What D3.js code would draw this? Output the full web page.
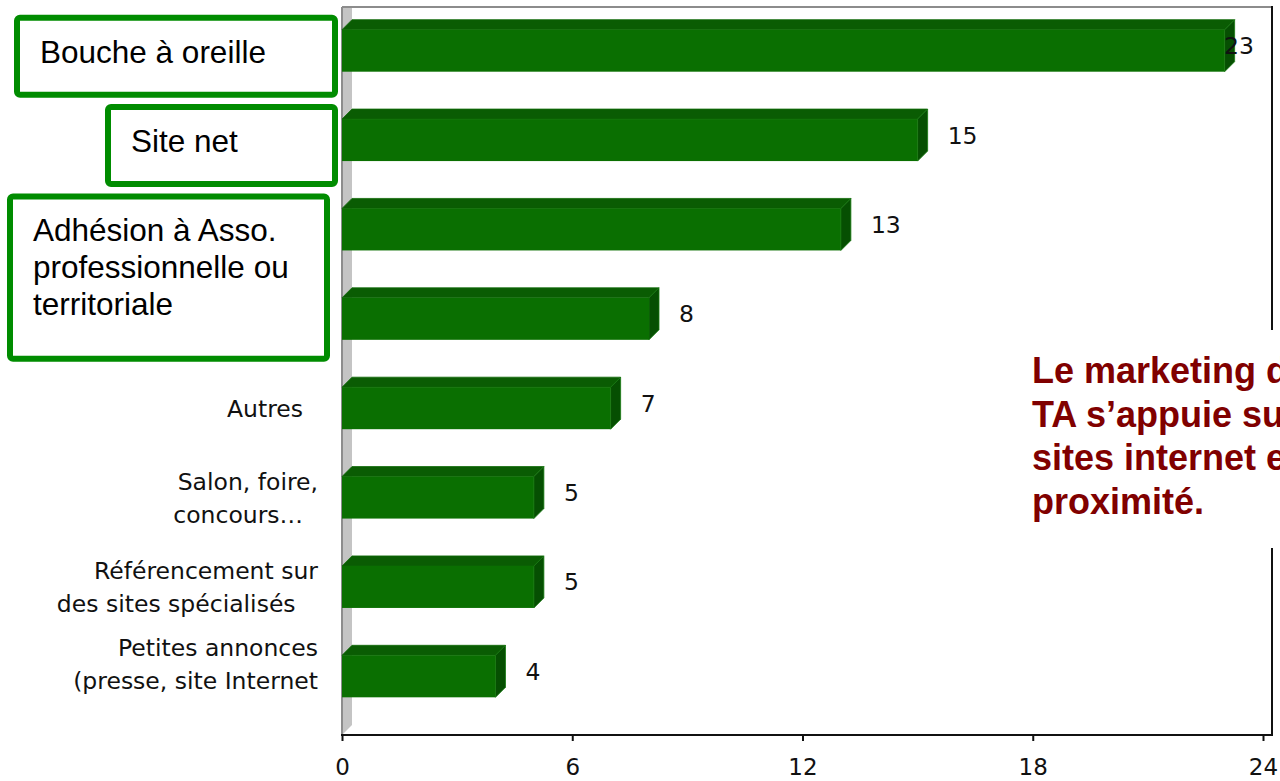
<!DOCTYPE html>
<html lang="fr">
<head>
<meta charset="utf-8">
<script src="https://cdn.jsdelivr.net/npm/d3@7"></script>
<style>
  html, body { margin: 0; padding: 0; background: #fff; overflow: hidden; }
  svg { display: block; }
</style>
</head>
<body>
<svg id="chart" width="1280" height="781"></svg>
<script>
// ---- data ----
const categories = [
  "Bouche à oreille",
  "Site net",
  "Adhésion à Asso. professionnelle",
  "Adhésion à Asso. territoriale",
  "Autres",
  "Salon, foire, concours…",
  "Référencement sur des sites spécialisés",
  "Petites annonces (presse, site Internet"
];
const values = [23, 15, 13, 8, 7, 5, 5, 4];

// axis label lines per category (the first four are shown in framed boxes instead)
const categoryLabels = [
  [], [], [], [],
  ["Autres\u00a0\u00a0"],
  ["Salon, foire,", "concours…\u00a0\u00a0"],
  ["Référencement sur", "des sites spécialisés\u00a0\u00a0\u00a0"],
  ["Petites annonces", "(presse, site Internet", ""]
];
const xTicks = [0, 6, 12, 18, 24];

// framed labels: text lines and the range of categories each one covers
const boxTexts = [
  ["Bouche à oreille"],
  ["Site net"],
  ["Adhésion à Asso.", "professionnelle ou", "territoriale"]
];
const boxFrom = [0, 1, 2];
const boxTo = [0, 1, 3];

const noteLines = ["Le marketing des", "TA s’appuie sur les", "sites internet et de", "proximité."];

// ---- layout ----
const svg = d3.select("#chart");
const depthX = 10, depthY = 10;      // 3D extrusion of bars and walls
const axisY = 735;                   // front edge of the floor
const backTop = 7;                   // top edge of the back wall

const x = d3.scaleLinear().domain([0, 24]).range([342, 1263]);
const y = d3.scaleBand().domain(categories).range([6, 721])
  .paddingInner(0.53).paddingOuter(0.265);
const bw = y.bandwidth();
const backRight = x(24) + 9;

const labelFont = "'DejaVu Sans', Verdana, sans-serif";

// ---- side wall and frame ----
svg.append("polygon")
  .attr("points", [[x(0), backTop], [x(0) + depthX, backTop], [x(0) + depthX, axisY - depthY], [x(0), axisY]].join(" "))
  .attr("fill", "#c4c4c4");
svg.append("line")
  .attr("x1", x(0)).attr("x2", x(0)).attr("y1", backTop).attr("y2", axisY)
  .attr("stroke", "#8c8c8c").attr("stroke-width", 2);
svg.append("line")
  .attr("x1", x(0)).attr("x2", backRight).attr("y1", backTop).attr("y2", backTop)
  .attr("stroke", "#8c8c8c").attr("stroke-width", 2);
svg.append("line")
  .attr("x1", backRight).attr("x2", backRight).attr("y1", backTop - 1).attr("y2", axisY)
  .attr("stroke", "#111").attr("stroke-width", 2);

// ---- 3D bars ----
const bars = svg.append("g").selectAll("g").data(values).join("g");
// top face
bars.append("polygon")
  .attr("points", (d, i) => {
    const y0 = y(categories[i]), x0 = x(0), x1 = x(d);
    return [[x0, y0], [x0 + depthX, y0 - depthY], [x1 + depthX, y0 - depthY], [x1, y0]].join(" ");
  })
  .attr("fill", "#0a5c03").attr("stroke", "#0f6a08").attr("stroke-width", 0.8);
// side face
bars.append("polygon")
  .attr("points", (d, i) => {
    const y0 = y(categories[i]), x1 = x(d);
    return [[x1, y0], [x1 + depthX, y0 - depthY], [x1 + depthX, y0 - depthY + bw], [x1, y0 + bw]].join(" ");
  })
  .attr("fill", "#064f02").attr("stroke", "#177a10").attr("stroke-width", 0.8);
// front face
bars.append("rect")
  .attr("x", x(0))
  .attr("y", (d, i) => y(categories[i]))
  .attr("width", d => x(d) - x(0))
  .attr("height", bw)
  .attr("fill", "#0a6f01");

// value labels, kept inside the plot frame
svg.append("g").selectAll("text").data(values).join("text")
  .attr("font-family", labelFont).attr("font-size", 23.5).attr("fill", "#111")
  .attr("y", (d, i) => y(categories[i]) + bw / 2 - depthY / 2)
  .attr("dy", "0.36em")
  .text(d => d)
  .attr("x", function (d) {
    const w = this.getComputedTextLength();
    return Math.min(x(d) + depthX + 20, backRight - 18 - w);
  });

// ---- x axis ----
svg.append("line")
  .attr("x1", x(0) - 1).attr("x2", backRight + 1).attr("y1", axisY).attr("y2", axisY)
  .attr("stroke", "#111").attr("stroke-width", 2);
const axis = svg.append("g").attr("transform", `translate(0,${axisY})`)
  .call(d3.axisBottom(x).tickValues(xTicks).tickSize(6).tickFormat(d3.format("d")));
axis.select(".domain").remove();
axis.selectAll(".tick line").attr("stroke", "#111").attr("stroke-width", 2);
axis.selectAll(".tick text")
  .attr("font-family", labelFont).attr("font-size", 23).attr("fill", "#111")
  .attr("y", 40).attr("dy", 0);

// ---- category labels ----
const lineGap = 33;
svg.append("g").selectAll("text").data(categoryLabels).join("text")
  .attr("font-family", labelFont).attr("font-size", 23.5).attr("fill", "#111")
  .attr("text-anchor", "end")
  .attr("xml:space", "preserve")
  .each(function (lines, i) {
    const cy = y(categories[i]) + bw / 2;
    const t = d3.select(this);
    lines.forEach((ln, k) => {
      t.append("tspan")
        .attr("x", 318)
        .attr("y", cy + (k - (lines.length - 1) / 2) * lineGap + (lines.length > 2 ? 4 : 0))
        .attr("dy", "0.36em")
        .text(ln);
    });
  });

// ---- framed labels ----
const boxLeft = [17, 108, 10];
const boxRight = [335, 335, 327];
const boxTop = i => y(categories[boxFrom[i]]) + bw / 2 - 33;
const boxBottom = i => y(categories[boxTo[i]]) + bw / 2 + 44 - (boxTo[i] - boxFrom[i]) * 4;
const boxes = svg.append("g").selectAll("g").data(boxTexts).join("g");
boxes.append("rect")
  .attr("x", (d, i) => boxLeft[i])
  .attr("y", (d, i) => boxTop(i))
  .attr("width", (d, i) => boxRight[i] - boxLeft[i])
  .attr("height", (d, i) => boxBottom(i) - boxTop(i))
  .attr("rx", 3)
  .attr("fill", "#fff").attr("stroke", "#008c00").attr("stroke-width", 6);
boxes.append("text")
  .attr("font-family", "'Liberation Sans', Arial, sans-serif").attr("font-size", 31.5).attr("fill", "#000")
  .each(function (lines, i) {
    const t = d3.select(this);
    lines.forEach((ln, k) => {
      t.append("tspan").attr("x", boxLeft[i] + 23).attr("y", boxTop(i) + 45 + k * 37).text(ln);
    });
  });

// ---- note ----
svg.append("rect").attr("x", 1020).attr("y", 330).attr("width", 270).attr("height", 218).attr("fill", "#fff");
svg.append("text")
  .attr("font-family", "'Liberation Sans', Arial, sans-serif").attr("font-size", 36)
  .attr("font-weight", "bold").attr("fill", "#800000")
  .selectAll("tspan").data(noteLines).join("tspan")
  .attr("x", 1032).attr("y", (d, k) => 383 + k * 43.5)
  .text(d => d);
</script>
</body>
</html>
